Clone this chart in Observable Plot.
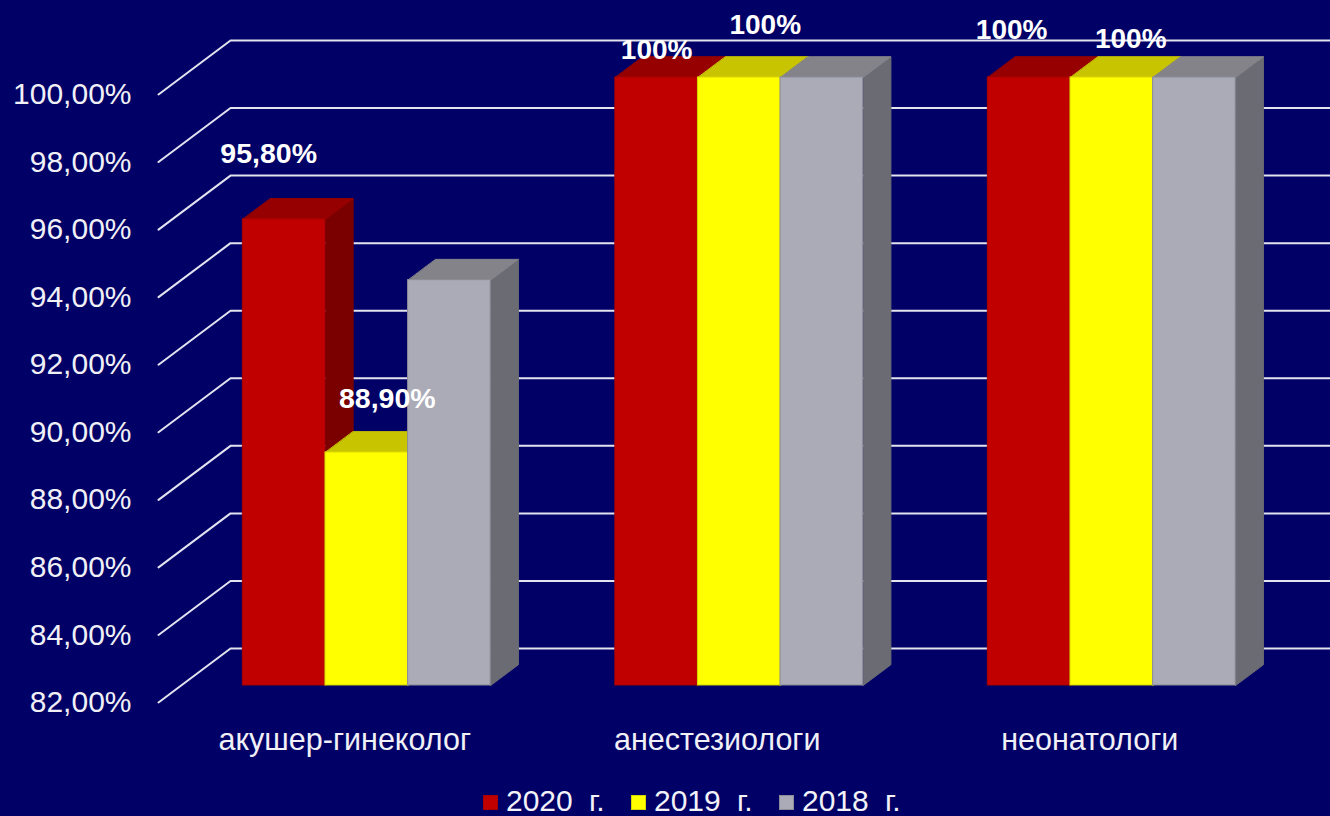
<!DOCTYPE html>
<html lang="ru">
<head>
<meta charset="utf-8">
<title>Chart</title>
<script src="https://cdn.jsdelivr.net/npm/d3@7"></script>
<script src="https://cdn.jsdelivr.net/npm/@observablehq/plot@0.6"></script>
<style>
  html, body { margin: 0; padding: 0; background: #000066; overflow: hidden; width: 1330px; height: 816px; }
  #chart svg { display: block; }
  #legend { position: absolute; left: 0; top: 786px; height: 30px; width: 1330px;
            font: 30px "Liberation Sans", Arial, sans-serif; color: #f2f2f8; }
  #legend span.item { position: absolute; top: 3px; white-space: nowrap; word-spacing: 8px; line-height: 24px; }
  #legend i { position: absolute; top: 9px; width: 15px; height: 15px; box-sizing: border-box; }
</style>
</head>
<body>
<div id="chart"></div>
<div id="legend"></div>
<script>
// Share of specialists by profession, three reporting years
const categories = ["акушер-гинеколог", "анестезиологи", "неонатологи"];
const years = ["2020 г.", "2019 г.", "2018 г."];
const values2020 = [95.8, 100, 100];
const values2019 = [88.9, 100, 100];
const values2018 = [94.0, 100, 100];
const yTicks = [82, 84, 86, 88, 90, 92, 94, 96, 98, 100];

// Face colours per series: front, top, side
const palette = [
  {front: "#C00000", top: "#960000", side: "#7A0000", edge: "#A80000"},
  {front: "#FFFF00", top: "#C8C400", side: "#8E8C00", edge: "#D8D400"},
  {front: "#ABABB8", top: "#838389", side: "#6B6B73", edge: "#8C8C98"}
];

// Oblique projection: depth 0 is the front of the floor, depth 1 the back wall
const depthRun = 72 / 372.5;   // horizontal shift, in category units
const depthRise = 54 / 33.78;  // vertical shift, in percent units
const depthFront = 0.315;
const depthBack = 0.70;
const barWidth = 0.2218;
const barStart = 0.1655;       // half of the gap between groups
const project = (x, v, d) => ({x: x + d * depthRun, y: v + d * depthRise});

const base = yTicks[0];
const series = [values2020, values2019, values2018];

// Back-wall gridlines, each running up the side wall and along the back
const grid = yTicks.flatMap((v) => [
  {...project(0, v, 0), tick: v},
  {...project(0, v, 1), tick: v},
  {...project(3, v, 1), tick: v}
]);

const face = (points, fill, stroke) =>
  Plot.line(points, {x: "x", y: "y", fill, stroke, strokeWidth: 1, curve: "linear-closed"});

// Painted left to right so that each bar hides the side of its neighbour
const barMarks = categories.flatMap((_, c) =>
  series.flatMap((vals, s) => {
    const v = vals[c];
    const x0 = c + barStart + s * barWidth;
    const x1 = x0 + barWidth;
    const col = palette[s];
    const fBL = project(x0, base, depthFront), fTR = project(x1, v, depthFront);
    return [
      face([
        project(x1, base, depthFront), project(x1, base, depthBack),
        project(x1, v, depthBack), project(x1, v, depthFront)
      ], col.side, col.side),
      face([
        project(x0, v, depthFront), project(x1, v, depthFront),
        project(x1, v, depthBack), project(x0, v, depthBack)
      ], col.top, col.top),
      Plot.rect([0], {x1: () => fBL.x, x2: () => fTR.x, y1: () => fBL.y, y2: () => fTR.y,
        fill: col.front, stroke: col.edge, strokeWidth: 1})
    ];
  })
);

// Hand-placed value labels; the 2018 series carries none
const percent = (v) => Number.isInteger(v) ? `${v}%` : `${v.toFixed(2).replace(".", ",")}%`;
const valueLabels = [
  {s: 0, c: 0, dx: -15.5, dy: -65, size: 28.5},
  {s: 1, c: 0, dx: 20.5, dy: -54, size: 28.5},
  {s: 0, c: 1, dx: 0, dy: -27.5, size: 28},
  {s: 1, c: 1, dx: 26, dy: -52, size: 28},
  {s: 0, c: 2, dx: -17.5, dy: -47, size: 28},
  {s: 1, c: 2, dx: 19, dy: -38, size: 28}
];
const labelMarks = valueLabels.map(({s, c, dx, dy, size}) => {
  const v = series[s][c];
  const p = project(c + barStart + (s + 0.5) * barWidth, v, depthFront);
  return Plot.text([percent(v)], {
    x: () => p.x, y: () => p.y, text: (d) => d, dx, dy,
    fontSize: size, fontWeight: "bold", fill: "#ffffff"
  });
});

const chart = Plot.plot({
  width: 1330,
  height: 786,
  marginLeft: 158,
  marginRight: 54.5,
  marginTop: 94,
  marginBottom: 84,
  style: {background: "#000066", fontFamily: "'Liberation Sans', Arial, sans-serif", overflow: "hidden"},
  x: {domain: [0, 3]},
  y: {domain: [82, 100]},
  marks: [
    Plot.line(grid, {x: "x", y: "y", z: "tick", stroke: "#E4E4F0", strokeWidth: 2}),
    ...barMarks,
    ...labelMarks,
    Plot.axisY({
      ticks: yTicks, tickSize: 0, tickPadding: 27, label: null, fontSize: 30, fill: "#F0F0F6",
      tickFormat: (v) => `${v.toFixed(2).replace(".", ",")}%`
    }),
    Plot.axisX({
      ticks: categories.map((_, i) => i + 0.5), tickSize: 0, tickPadding: 26, label: null,
      fontSize: 30.5, fill: "#F0F0F6", tickFormat: (v) => categories[Math.floor(v)]
    })
  ]
});
document.getElementById("chart").append(chart);

// Legend beneath the plot
const legend = d3.select("#legend");
const legendSwatchX = [483, 631, 779];
years.forEach((year, i) => {
  legend.append("i").style("left", `${legendSwatchX[i]}px`)
    .style("background", palette[i].front).style("border", `1px solid ${palette[i].edge}`);
  legend.append("span").attr("class", "item").style("left", `${legendSwatchX[i] + 23}px`).text(year);
});
</script>
</body>
</html>
